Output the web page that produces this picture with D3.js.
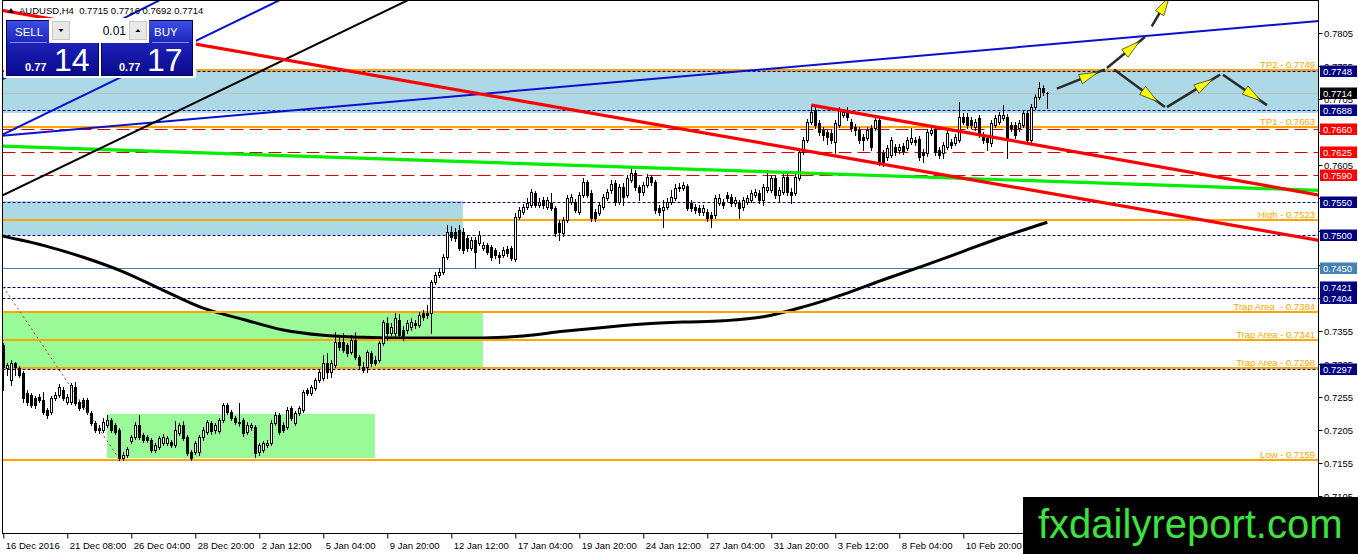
<!DOCTYPE html>
<html>
<head>
<meta charset="utf-8">
<script src="https://cdn.jsdelivr.net/npm/d3@7/dist/d3.min.js"></script>
<style>
  html, body { margin:0; padding:0; background:#ffffff; overflow:hidden; }
  svg { display:block; font-family: "Liberation Sans", Arial, sans-serif; }
  text { white-space: pre; }
</style>
</head>
<body>
<svg id="chart" width="1358" height="554"></svg>
<script>
// ---------- DATA (AUDUSD, H4) ----------
const symbol = "AUDUSD,H4";
const opens = [
0.7333,0.7298,0.7280,0.7306,0.7298,0.7291,0.7261,0.7258,0.7253,0.7255,
0.7250,0.7235,0.7232,0.7253,0.7258,0.7265,0.7247,0.7247,0.7270,0.7247,
0.7250,0.7250,0.7230,0.7215,0.7208,0.7205,0.7212,0.7220,0.7212,0.7205,
0.7162,0.7167,0.7188,0.7194,0.7212,0.7197,0.7194,0.7190,0.7175,0.7179,
0.7185,0.7185,0.7187,0.7182,0.7200,0.7212,0.7194,0.7171,0.7171,0.7171,
0.7194,0.7202,0.7215,0.7205,0.7203,0.7220,0.7243,0.7232,0.7223,0.7217,
0.7220,0.7202,0.7209,0.7209,0.7171,0.7175,0.7182,0.7185,0.7215,0.7227,
0.7212,0.7209,0.7238,0.7215,0.7230,0.7235,0.7265,0.7261,0.7268,0.7280,
0.7283,0.7306,0.7292,0.7303,0.7338,0.7338,0.7333,0.7323,0.7341,0.7315,
0.7300,0.7300,0.7321,0.7311,0.7311,0.7336,0.7367,0.7351,0.7351,0.7371,
0.7356,0.7356,0.7360,0.7367,0.7363,0.7382,0.7382,0.7382,0.7429,0.7439,
0.7444,0.7466,0.7504,0.7504,0.7507,0.7504,0.7495,0.7480,0.7492,0.7487,
0.7480,0.7484,0.7481,0.7477,0.7469,0.7469,0.7478,0.7480,0.7463,0.7527,
0.7534,0.7542,0.7545,0.7563,0.7545,0.7553,0.7542,0.7548,0.7540,0.7518,
0.7503,0.7522,0.7550,0.7549,0.7534,0.7560,0.7580,0.7563,0.7534,0.7533,
0.7542,0.7556,0.7568,0.7578,0.7549,0.7572,0.7560,0.7583,0.7593,0.7572,
0.7565,0.7575,0.7587,0.7580,0.7540,0.7537,0.7542,0.7549,0.7556,0.7571,
0.7571,0.7574,0.7548,0.7542,0.7540,0.7534,0.7534,0.7530,0.7530,0.7548,
0.7549,0.7560,0.7557,0.7548,0.7548,0.7542,0.7549,0.7553,0.7560,0.7563,
0.7553,0.7568,0.7568,0.7586,0.7560,0.7565,0.7587,0.7565,0.7563,0.7586,
0.7625,0.7643,0.7670,0.7689,0.7669,0.7658,0.7655,0.7654,0.7640,0.7666,
0.7681,0.7689,0.7670,0.7663,0.7658,0.7648,0.7646,0.7661,0.7661,0.7673,
0.7624,0.7618,0.7621,0.7633,0.7628,0.7634,0.7631,0.7640,0.7643,0.7645,
0.7625,0.7624,0.7654,0.7660,0.7628,0.7624,0.7633,0.7640,0.7639,0.7643,
0.7678,0.7678,0.7673,0.7663,0.7676,0.7651,0.7646,0.7639,0.7666,0.7670,
0.7676,0.7678,0.7666,0.7666,0.7661,0.7666,0.7684,0.7643,0.7693,0.7708,
0.7722,0.7715];
const highs = [
0.7336,0.7306,0.7311,0.7308,0.7301,0.7294,0.7265,0.7261,0.7256,0.7259,
0.7262,0.7238,0.7256,0.7262,0.7274,0.7270,0.7259,0.7276,0.7277,0.7250,
0.7253,0.7253,0.7233,0.7218,0.7212,0.7223,0.7227,0.7223,0.7215,0.7208,
0.7171,0.7179,0.7197,0.7217,0.7227,0.7200,0.7197,0.7193,0.7185,0.7196,
0.7199,0.7196,0.7190,0.7218,0.7215,0.7218,0.7197,0.7175,0.7188,0.7197,
0.7209,0.7220,0.7218,0.7215,0.7223,0.7246,0.7246,0.7235,0.7226,0.7246,
0.7223,0.7217,0.7215,0.7212,0.7185,0.7188,0.7190,0.7220,0.7232,0.7230,
0.7217,0.7240,0.7241,0.7233,0.7241,0.7265,0.7268,0.7273,0.7283,0.7295,
0.7318,0.7321,0.7311,0.7353,0.7348,0.7351,0.7336,0.7348,0.7353,0.7318,
0.7308,0.7326,0.7324,0.7317,0.7339,0.7371,0.7376,0.7367,0.7382,0.7380,
0.7362,0.7371,0.7374,0.7371,0.7383,0.7386,0.7394,0.7432,0.7444,0.7450,
0.7471,0.7515,0.7513,0.7510,0.7515,0.7510,0.7500,0.7497,0.7497,0.7506,
0.7489,0.7487,0.7484,0.7480,0.7474,0.7481,0.7483,0.7483,0.7533,0.7542,
0.7546,0.7556,0.7569,0.7566,0.7556,0.7557,0.7557,0.7563,0.7543,0.7522,
0.7527,0.7560,0.7562,0.7554,0.7565,0.7586,0.7583,0.7568,0.7539,0.7550,
0.7562,0.7569,0.7583,0.7583,0.7577,0.7578,0.7590,0.7601,0.7598,0.7575,
0.7580,0.7592,0.7590,0.7583,0.7545,0.7553,0.7556,0.7568,0.7577,0.7578,
0.7580,0.7577,0.7553,0.7546,0.7545,0.7545,0.7539,0.7534,0.7560,0.7562,
0.7554,0.7565,0.7562,0.7557,0.7553,0.7557,0.7560,0.7568,0.7569,0.7568,
0.7577,0.7598,0.7590,0.7590,0.7572,0.7593,0.7592,0.7571,0.7593,0.7631,
0.7648,0.7675,0.7696,0.7695,0.7673,0.7663,0.7660,0.7658,0.7673,0.7693,
0.7690,0.7693,0.7675,0.7667,0.7663,0.7652,0.7663,0.7666,0.7679,0.7678,
0.7628,0.7636,0.7648,0.7637,0.7637,0.7639,0.7648,0.7661,0.7648,0.7649,
0.7630,0.7660,0.7663,0.7664,0.7633,0.7640,0.7658,0.7645,0.7652,0.7701,
0.7684,0.7684,0.7678,0.7675,0.7681,0.7655,0.7651,0.7673,0.7681,0.7686,
0.7696,0.7683,0.7670,0.7670,0.7673,0.7689,0.7689,0.7698,0.7713,0.7731,
0.7726,0.7716];
const lows = [
0.7265,0.7288,0.7273,0.7288,0.7285,0.7247,0.7243,0.7240,0.7238,0.7247,
0.7229,0.7223,0.7229,0.7250,0.7255,0.7250,0.7244,0.7244,0.7243,0.7235,
0.7237,0.7229,0.7212,0.7202,0.7200,0.7202,0.7209,0.7202,0.7199,0.7159,
0.7159,0.7164,0.7185,0.7191,0.7191,0.7187,0.7187,0.7171,0.7171,0.7176,
0.7182,0.7182,0.7179,0.7179,0.7197,0.7190,0.7167,0.7159,0.7168,0.7167,
0.7190,0.7199,0.7199,0.7200,0.7200,0.7217,0.7229,0.7220,0.7214,0.7211,
0.7196,0.7199,0.7205,0.7164,0.7167,0.7171,0.7179,0.7182,0.7212,0.7199,
0.7202,0.7206,0.7220,0.7212,0.7227,0.7232,0.7258,0.7258,0.7265,0.7277,
0.7280,0.7283,0.7285,0.7300,0.7326,0.7323,0.7317,0.7320,0.7312,0.7298,
0.7292,0.7292,0.7301,0.7303,0.7308,0.7333,0.7341,0.7348,0.7346,0.7344,
0.7341,0.7351,0.7356,0.7359,0.7360,0.7371,0.7374,0.7351,0.7426,0.7436,
0.7441,0.7463,0.7492,0.7490,0.7477,0.7472,0.7475,0.7477,0.7450,0.7484,
0.7477,0.7471,0.7462,0.7465,0.7457,0.7466,0.7468,0.7462,0.7460,0.7524,
0.7531,0.7539,0.7542,0.7542,0.7542,0.7540,0.7539,0.7537,0.7498,0.7492,
0.7498,0.7519,0.7546,0.7534,0.7531,0.7557,0.7557,0.7521,0.7521,0.7530,
0.7539,0.7553,0.7563,0.7545,0.7546,0.7545,0.7557,0.7580,0.7568,0.7553,
0.7560,0.7572,0.7575,0.7533,0.7530,0.7512,0.7539,0.7546,0.7553,0.7566,
0.7568,0.7537,0.7536,0.7533,0.7530,0.7530,0.7521,0.7512,0.7525,0.7545,
0.7540,0.7551,0.7543,0.7543,0.7525,0.7537,0.7546,0.7549,0.7557,0.7548,
0.7545,0.7565,0.7565,0.7556,0.7549,0.7562,0.7560,0.7548,0.7560,0.7583,
0.7622,0.7640,0.7667,0.7661,0.7651,0.7643,0.7637,0.7639,0.7624,0.7663,
0.7678,0.7673,0.7657,0.7651,0.7639,0.7628,0.7643,0.7628,0.7658,0.7605,
0.7604,0.7613,0.7618,0.7621,0.7624,0.7622,0.7628,0.7637,0.7636,0.7613,
0.7610,0.7619,0.7651,0.7621,0.7616,0.7616,0.7630,0.7631,0.7636,0.7640,
0.7667,0.7661,0.7661,0.7658,0.7648,0.7639,0.7628,0.7634,0.7663,0.7667,
0.7673,0.7616,0.7657,0.7646,0.7657,0.7663,0.7640,0.7640,0.7690,0.7705,
0.7711,0.7692];
const closes = [
0.7300,0.7303,0.7306,0.7300,0.7288,0.7253,0.7247,0.7243,0.7243,0.7250,
0.7232,0.7227,0.7253,0.7258,0.7270,0.7253,0.7255,0.7273,0.7246,0.7238,
0.7240,0.7232,0.7215,0.7205,0.7205,0.7217,0.7220,0.7205,0.7202,0.7162,
0.7167,0.7176,0.7194,0.7212,0.7194,0.7190,0.7190,0.7175,0.7182,0.7193,
0.7194,0.7193,0.7182,0.7205,0.7212,0.7193,0.7170,0.7162,0.7185,0.7194,
0.7205,0.7217,0.7203,0.7212,0.7220,0.7243,0.7232,0.7223,0.7217,0.7215,
0.7200,0.7212,0.7212,0.7170,0.7182,0.7185,0.7185,0.7215,0.7227,0.7202,
0.7205,0.7235,0.7223,0.7230,0.7238,0.7262,0.7261,0.7270,0.7280,0.7292,
0.7306,0.7292,0.7306,0.7338,0.7330,0.7326,0.7321,0.7341,0.7315,0.7303,
0.7295,0.7323,0.7306,0.7306,0.7336,0.7368,0.7351,0.7360,0.7374,0.7348,
0.7345,0.7367,0.7368,0.7363,0.7379,0.7376,0.7379,0.7429,0.7439,0.7444,
0.7466,0.7504,0.7497,0.7495,0.7480,0.7477,0.7480,0.7492,0.7474,0.7500,
0.7484,0.7474,0.7466,0.7469,0.7466,0.7477,0.7472,0.7465,0.7527,0.7537,
0.7542,0.7548,0.7565,0.7545,0.7549,0.7545,0.7553,0.7540,0.7503,0.7504,
0.7522,0.7555,0.7557,0.7537,0.7560,0.7580,0.7560,0.7525,0.7525,0.7545,
0.7557,0.7565,0.7577,0.7549,0.7572,0.7557,0.7586,0.7593,0.7572,0.7565,
0.7575,0.7587,0.7580,0.7537,0.7534,0.7542,0.7549,0.7557,0.7571,0.7572,
0.7575,0.7540,0.7540,0.7537,0.7534,0.7540,0.7525,0.7525,0.7555,0.7555,
0.7545,0.7555,0.7548,0.7553,0.7540,0.7553,0.7555,0.7563,0.7565,0.7553,
0.7572,0.7572,0.7586,0.7560,0.7568,0.7587,0.7565,0.7560,0.7587,0.7625,
0.7643,0.7670,0.7686,0.7666,0.7655,0.7651,0.7648,0.7643,0.7669,0.7689,
0.7686,0.7678,0.7661,0.7658,0.7643,0.7643,0.7658,0.7633,0.7673,0.7608,
0.7608,0.7631,0.7643,0.7625,0.7633,0.7627,0.7643,0.7646,0.7640,0.7618,
0.7621,0.7655,0.7658,0.7625,0.7621,0.7636,0.7654,0.7636,0.7648,0.7678,
0.7670,0.7666,0.7666,0.7670,0.7651,0.7643,0.7640,0.7669,0.7676,0.7681,
0.7681,0.7643,0.7661,0.7651,0.7669,0.7684,0.7643,0.7693,0.7708,0.7722,
0.7716,0.7714];

// time axis: one label every 16 bars (labels under the watermark box are not visible)
const timeLabels = ["16 Dec 2016","21 Dec 08:00","26 Dec 04:00","28 Dec 20:00","2 Jan 12:00",
  "5 Jan 04:00","9 Jan 20:00","12 Jan 12:00","17 Jan 04:00","19 Jan 20:00","24 Jan 12:00",
  "27 Jan 04:00","31 Jan 20:00","3 Feb 12:00","8 Feb 04:00","10 Feb 20:00"];
const barsPerLabel = 16;
// price axis ticks
const priceTicks = [0.7105,0.7155,0.7205,0.7255,0.7305,0.7355,0.7405,0.7455,0.7505,0.7555,0.7605,0.7655,0.7705,0.7755,0.7805];

// long moving average (bar index, value)
const maIndex  = [-1,0,10,20,30,40,50,60,70,80,90,100,110,120,130,140,150,160,170,180,190,200,210,220,230,240,250,261];
const maValues = [0.7500,0.7498,0.7484,0.7466,0.7444,0.7416,0.7389,0.7372,0.7356,0.7348,0.7345,0.7344,0.7344,0.7344,0.7347,0.7354,0.7360,0.7365,0.7368,0.7370,0.7376,0.7391,0.7410,0.7432,0.7453,0.7475,0.7497,0.7519];

// horizontal levels
const orangeLevels = [0.7749, 0.7663, 0.7523, 0.7384, 0.7341, 0.7298, 0.7159];
const orangeNames  = ["TP2 - 0.7749","TP1 - 0.7663","High - 0.7523","Trap Area  - 0.7384","Trap Area - 0.7341","Trap Area - 0.7298","Low - 0.7159"];
const dashedLevels = [0.7748, 0.7688, 0.7550, 0.7500, 0.7421, 0.7404, 0.7297];
const redLevels    = [0.7660, 0.7625, 0.7590];
const steelLevels  = [0.7450];
const bidPrice     = 0.7714;

// zones: [fromBar, toBar, topPrice, bottomPrice]
const blueZones  = [[-3, 340, 0.7749, 0.7684], [-3, 114.9, 0.7551, 0.7499]];
const greenZones = [[-3, 119.9, 0.7384, 0.7298], [25.9, 92.9, 0.7229, 0.7162]];

// trend lines: two anchors [bar, price]
const redTrendMain   = [[0, 0.7839], [300, 0.7522]];
const redTrendUpper  = [[202, 0.7696], [300, 0.7591]];
const greenTrend     = [[0, 0.7634], [300, 0.7573]];
const blueTrendFlat  = [[0, 0.7650], [300, 0.7808]];
const blueTrendSteepA = [[0, 0.7736], [30, 0.7827]];
const blueTrendSteepB = [[0, 0.7652], [60, 0.7828]];
const blackTrend     = [[0, 0.7560], [80, 0.7793]];
const redDotted      = [[0, 0.7421], [29, 0.7161]];

// projected path arrows [[bar, price], [bar, price]]
const arrowPaths = [
  [[263.4, 0.7721], [275.4, 0.7750]],
  [[275.9, 0.7752], [285.4, 0.7799]],
  [[287.1, 0.7815], [292.2, 0.7867]],
  [[277.7, 0.7750], [290.4, 0.7693]],
  [[290.9, 0.7693], [304.2, 0.7742]],
  [[304.9, 0.7742], [315.9, 0.7696]]
];

// one-click trading panel
const lotSize = "0.01";
const sellQuote = ["0.77", "14"];
const buyQuote  = ["0.77", "17"];
const watermark = "fxdailyreport.com";

// ---------- DRAWING ----------
const svg = d3.select("#chart");
const x = d3.scaleLinear().domain([0, 1]).range([3.3, 7.3]);
const y = d3.scaleLinear().domain([0.7155, 0.7805]).range([463, 33]);
const PL = 2.5, PR = 1318.5, PT = 0.5, PB = 533.5;
const fmt = d3.format(".4f");
const snap = v => Math.round(v) + 0.5;

const defs = svg.append("defs");
defs.append("clipPath").attr("id", "plotClip").append("rect")
  .attr("x", PL).attr("y", 0).attr("width", PR - PL).attr("height", PB);
const grad = defs.append("linearGradient").attr("id", "btnGrad")
  .attr("x1", 0).attr("y1", 0).attr("x2", 0).attr("y2", 1);
grad.append("stop").attr("offset", "0%").attr("stop-color", "#3c4fe2");
grad.append("stop").attr("offset", "45%").attr("stop-color", "#1b20b6");
grad.append("stop").attr("offset", "100%").attr("stop-color", "#0a0a8c");

svg.append("rect").attr("width", 1358).attr("height", 554).attr("fill", "#ffffff");
const plot = svg.append("g").attr("clip-path", "url(#plotClip)");

// zones
function drawZone(z, color) {
  plot.append("rect")
    .attr("x", x(z[0])).attr("width", x(z[1]) - x(z[0]))
    .attr("y", Math.round(y(z[2]))).attr("height", Math.round(y(z[3])) - Math.round(y(z[2])))
    .attr("fill", color);
}
blueZones.forEach(z => drawZone(z, "#add8e6"));
greenZones.forEach(z => drawZone(z, "#98fb98"));

// horizontal levels
function hline(p, color, width, dash) {
  const yy = width % 2 === 0 ? Math.round(y(p)) : snap(y(p));
  const l = plot.append("line").attr("x1", PL).attr("x2", PR).attr("y1", yy).attr("y2", yy)
    .attr("stroke", color).attr("stroke-width", width);
  if (dash) l.attr("stroke-dasharray", dash);
}
hline(bidPrice, "#c0c0c0", 1);
steelLevels.forEach(p => hline(p, "#4682b4", 1));
redLevels.forEach(p => hline(p, "#d40000", 1, "13,6"));
dashedLevels.forEach(p => hline(p, "#000070", 1, "3,2"));

// moving average
const maLine = d3.line().x(d => x(d[0])).y(d => y(d[1])).curve(d3.curveCatmullRom);
plot.append("path").datum(maIndex.map((b, k) => [b, maValues[k]]))
  .attr("d", maLine).attr("fill", "none").attr("stroke", "#000").attr("stroke-width", 3);

// orange levels
orangeLevels.forEach(p => hline(p, "#ffa500", 2));

// candles
const candles = plot.append("g");
opens.forEach((o, i) => {
  const c = closes[i], h = highs[i], l = lows[i];
  const cx = snap(x(i));
  candles.append("line").attr("x1", cx).attr("x2", cx)
    .attr("y1", Math.round(y(h))).attr("y2", Math.round(y(l)) + 1)
    .attr("stroke", "#000").attr("stroke-width", 1);
  const top = Math.round(y(Math.max(o, c))), bot = Math.round(y(Math.min(o, c)));
  if (c >= o) {
    candles.append("rect").attr("x", cx - 1).attr("width", 2)
      .attr("y", top + 0.5).attr("height", Math.max(bot - top, 1))
      .attr("fill", "#fff").attr("stroke", "#000").attr("stroke-width", 1);
  } else {
    candles.append("rect").attr("x", cx - 1.5).attr("width", 3)
      .attr("y", top).attr("height", Math.max(bot - top + 1, 1))
      .attr("fill", "#000");
  }
});

// trend lines
const tl = d3.line().x(d => x(d[0])).y(d => y(d[1]));
function extendLine(a, from, to) {
  const [i1, p1] = a[0], [i2, p2] = a[1];
  const m = (p2 - p1) / (i2 - i1);
  return [[from, p1 + m * (from - i1)], [to, p1 + m * (to - i1)]];
}
function trend(a, from, to, color, width, dash) {
  const p = plot.append("path").datum(extendLine(a, from, to)).attr("d", tl)
    .attr("fill", "none").attr("stroke", color).attr("stroke-width", width);
  if (dash) p.attr("stroke-dasharray", dash);
}
trend(greenTrend, -2, 335, "#00ee00", 3.2);
trend(blueTrendFlat, -2, 335, "#0a10d0", 2);
trend(blueTrendSteepA, -2, 60, "#0a10d0", 2);
trend(blueTrendSteepB, -2, 90, "#0a10d0", 2);
trend(blackTrend, -2, 120, "#000", 2);
trend(redTrendMain, -2, 335, "#ff0000", 3.2);
trend(redTrendUpper, 202, 335, "#ff0000", 3.2);
plot.append("path").datum(redDotted).attr("d", tl).attr("fill", "none")
  .attr("stroke", "#c03030").attr("stroke-width", 1).attr("stroke-dasharray", "2,3");

// orange labels
orangeLevels.forEach((p, k) => {
  plot.append("text").attr("x", 1315).attr("y", Math.round(y(p)) - 2.5)
    .attr("text-anchor", "end").attr("font-size", 9.5).attr("fill", "#ffa500")
    .text(orangeNames[k]);
});

// arrows
arrowPaths.forEach(seg => {
  const X1 = x(seg[0][0]), Y1 = y(seg[0][1]), X2 = x(seg[1][0]), Y2 = y(seg[1][1]);
  plot.append("line").attr("x1", X1).attr("y1", Y1).attr("x2", X2).attr("y2", Y2)
    .attr("stroke", "#2a2a2a").attr("stroke-width", 2.5);
  const len = Math.hypot(X2 - X1, Y2 - Y1), ux = (X2 - X1) / len, uy = (Y2 - Y1) / len;
  const tx = X1 + (X2 - X1) * 0.86, ty = Y1 + (Y2 - Y1) * 0.86;
  const bx = tx - ux * 19, by = ty - uy * 19, w = 5;
  plot.append("path")
    .attr("d", `M${tx},${ty}L${bx - uy * w},${by + ux * w}L${bx + uy * w},${by - ux * w}Z`)
    .attr("fill", "#ffff00").attr("stroke", "#3a3a2a").attr("stroke-width", 0.8);
});

// frame
svg.append("rect").attr("x", PL).attr("y", PT).attr("width", PR - PL).attr("height", PB - PT)
  .attr("fill", "none").attr("stroke", "#000").attr("stroke-width", 1);

// price markers (levels shown on the axis)
const markerList = [
  ...dashedLevels.map(p => [p, "#000080"]),
  ...redLevels.map(p => [p, "#ff0000"]),
  ...steelLevels.map(p => [p, "#4682b4"]),
  [bidPrice, "#000000"]
];

// price axis (labels fully covered by a marker are not drawn, as in the original)
const yAxis = svg.append("g");
priceTicks.forEach(t => {
  const yy = snap(y(t));
  yAxis.append("line").attr("x1", PR).attr("x2", PR + 4).attr("y1", yy).attr("y2", yy).attr("stroke", "#000");
  const hidden = markerList.some(m => Math.abs(y(m[0]) - y(t)) < 4);
  if (!hidden) {
    yAxis.append("text").attr("x", 1324).attr("y", yy + 3.5).attr("font-size", 9.5).attr("fill", "#000").text(fmt(t));
  }
});

// time axis
const xAxis = d3.axisBottom(x)
  .tickValues(timeLabels.map((d, k) => k * barsPerLabel))
  .tickFormat((d, k) => timeLabels[k]).tickSize(5);
const gx = svg.append("g").attr("transform", `translate(0,${PB})`).call(xAxis);
gx.select(".domain").remove();
gx.selectAll(".tick line").attr("stroke", "#000");
gx.selectAll(".tick text").attr("text-anchor", "start").attr("x", 2).attr("y", 15).attr("dy", null)
  .attr("font-size", 9.5).attr("font-family", "Liberation Sans, Arial, sans-serif").attr("fill", "#000");

function marker(p, color) {
  const yc = Math.round(y(p));
  svg.append("rect").attr("x", 1320).attr("y", yc - 5.5).attr("width", 37).attr("height", 11.5).attr("fill", color);
  svg.append("text").attr("x", 1323).attr("y", yc + 3.8).attr("font-size", 9.5).attr("fill", "#fff").text(fmt(p));
}
markerList.forEach(m => marker(m[0], m[1]));

// header
svg.append("path").attr("d", "M8,13L14,13L11,8Z").attr("fill", "#000");
svg.append("text").attr("x", 19).attr("y", 14).attr("font-size", 9.5).attr("fill", "#000")
  .text(`${symbol}  ${fmt(opens[opens.length - 1])} ${fmt(highs[highs.length - 1])} ${fmt(lows[lows.length - 1])} ${fmt(closes[closes.length - 1])}`);

// one-click trading panel
const panel = svg.append("g");
panel.append("rect").attr("x", 4).attr("y", 18).attr("width", 192).attr("height", 60).attr("fill", "#fff");
panel.append("rect").attr("x", 6.5).attr("y", 20.5).attr("width", 92).attr("height", 55)
  .attr("fill", "url(#btnGrad)").attr("stroke", "#00005a");
panel.append("rect").attr("x", 101.5).attr("y", 20.5).attr("width", 91).attr("height", 55)
  .attr("fill", "url(#btnGrad)").attr("stroke", "#00005a");
panel.append("rect").attr("x", 49).attr("y", 18).attr("width", 100).attr("height", 25).attr("fill", "#fff");
panel.append("rect").attr("x", 52.5).attr("y", 21.5).attr("width", 17).attr("height", 18)
  .attr("fill", "#e8e8e8").attr("stroke", "#c8c8c8");
panel.append("rect").attr("x", 129.5).attr("y", 21.5).attr("width", 17).attr("height", 18)
  .attr("fill", "#e8e8e8").attr("stroke", "#c8c8c8");
panel.append("path").attr("d", "M58.5,29L63.5,29L61,32Z").attr("fill", "#000");
panel.append("path").attr("d", "M135.5,32L140.5,32L138,29Z").attr("fill", "#000");
panel.append("text").attr("x", 126).attr("y", 35).attr("text-anchor", "end").attr("font-size", 12).attr("fill", "#000").text(lotSize);
panel.append("line").attr("x1", 10).attr("x2", 47).attr("y1", 42.5).attr("y2", 42.5).attr("stroke", "#7f8ce8");
panel.append("line").attr("x1", 152).attr("x2", 189).attr("y1", 42.5).attr("y2", 42.5).attr("stroke", "#7f8ce8");
panel.append("text").attr("x", 15).attr("y", 36).attr("font-size", 11.5).attr("fill", "#fff").text("SELL");
panel.append("text").attr("x", 154).attr("y", 36).attr("font-size", 11.5).attr("fill", "#fff").text("BUY");
panel.append("text").attr("x", 25).attr("y", 71).attr("font-size", 11).attr("font-weight", "bold").attr("fill", "#fff").text(sellQuote[0]);
panel.append("text").attr("x", 54).attr("y", 71).attr("font-size", 32).attr("fill", "#fff").text(sellQuote[1]);
panel.append("text").attr("x", 119).attr("y", 71).attr("font-size", 11).attr("font-weight", "bold").attr("fill", "#fff").text(buyQuote[0]);
panel.append("text").attr("x", 147).attr("y", 71).attr("font-size", 32).attr("fill", "#fff").text(buyQuote[1]);

// watermark
svg.append("rect").attr("x", 1023).attr("y", 497).attr("width", 335).attr("height", 57).attr("fill", "#000");
svg.append("text").attr("x", 1038).attr("y", 538).attr("font-size", 40)
  .attr("font-family", "Liberation Sans, Arial, sans-serif").attr("fill", "#3ee23e").text(watermark);
</script>
</body>
</html>
